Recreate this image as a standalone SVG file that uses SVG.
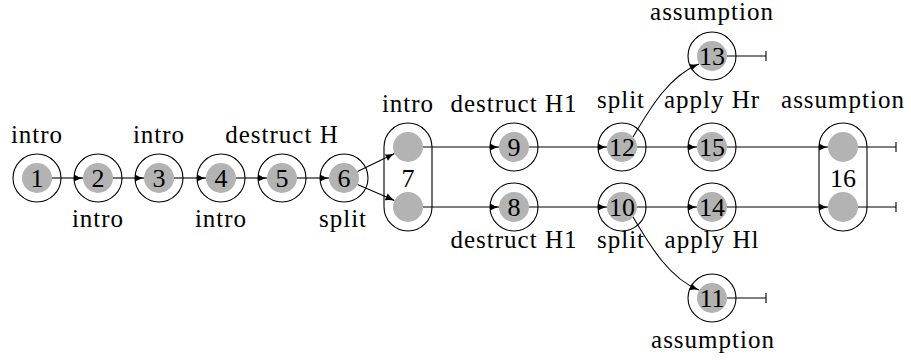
<svg xmlns="http://www.w3.org/2000/svg" width="911" height="363" viewBox="0 0 911 363">
<style>
text{font-family:"Liberation Serif","Times New Roman",serif;fill:#000}
.lbl{font-size:25px;letter-spacing:1px;text-anchor:middle}
.num{font-size:26px;text-anchor:middle}
.outer{fill:none;stroke:#000;stroke-width:1.1}
.core{fill:#b3b3b3;stroke:none}
.e{fill:none;stroke:#000;stroke-width:1.1}
.ea{fill:none;stroke:#000;stroke-width:1.1;marker-end:url(#arr)}
</style>
<defs>
<marker id="arr" markerUnits="userSpaceOnUse" markerWidth="12" markerHeight="10" viewBox="-1 -5 12 10" refX="9" refY="0" orient="auto">
<path d="M0,-3.6 Q4,-1 9,0 Q4,1 0,3.6 Z" fill="#000"/>
</marker>
</defs>
<rect width="911" height="363" fill="#fff"/>

<g id="connectors">
<line class="ea" x1="52" y1="178" x2="83" y2="178"/>
<line class="ea" x1="113" y1="178" x2="144" y2="178"/>
<line class="ea" x1="174" y1="178" x2="206" y2="178"/>
<line class="ea" x1="236" y1="178" x2="267" y2="178"/>
<line class="ea" x1="297" y1="178" x2="329" y2="178"/>
<line class="ea" x1="357.5" y1="171.5" x2="394.5" y2="153.5"/>
<line class="ea" x1="357.5" y1="184.5" x2="394.5" y2="200.5"/>
<line class="ea" x1="423" y1="147" x2="499" y2="147"/>
<line class="ea" x1="423" y1="207" x2="499" y2="207"/>
<line class="ea" x1="529" y1="147" x2="607" y2="147"/>
<line class="ea" x1="529" y1="207" x2="607" y2="207"/>
<line class="ea" x1="637" y1="147" x2="697" y2="147"/>
<line class="ea" x1="637" y1="207" x2="697" y2="207"/>
<line class="ea" x1="727" y1="147" x2="828" y2="147"/>
<line class="ea" x1="727" y1="207" x2="828" y2="207"/>
<path class="ea" d="M633,137 C648,112 668,76 699,64"/>
<path class="ea" d="M633,217 C648,242 668,278 699,290"/>
<path class="e" d="M727,56 H766 M766,51 V61"/>
<path class="e" d="M727,298 H766 M766,293 V303"/>
<path class="e" d="M858,147 H896 M896,142 V152"/>
<path class="e" d="M858,207 H896 M896,202 V212"/>
</g>

<g id="n1"><circle class="outer" cx="37" cy="178" r="24"/><circle class="core" cx="37" cy="178" r="15"/><text class="num" x="37" y="187">1</text><text class="lbl" x="37" y="143">intro</text></g>
<g id="n2"><circle class="outer" cx="98" cy="178" r="24"/><circle class="core" cx="98" cy="178" r="15"/><text class="num" x="98" y="187">2</text><text class="lbl" x="98" y="227">intro</text></g>
<g id="n3"><circle class="outer" cx="159" cy="178" r="24"/><circle class="core" cx="159" cy="178" r="15"/><text class="num" x="159" y="187">3</text><text class="lbl" x="159" y="143">intro</text></g>
<g id="n4"><circle class="outer" cx="221" cy="178" r="24"/><circle class="core" cx="221" cy="178" r="15"/><text class="num" x="221" y="187">4</text><text class="lbl" x="221" y="227">intro</text></g>
<g id="n5"><circle class="outer" cx="282" cy="178" r="24"/><circle class="core" cx="282" cy="178" r="15"/><text class="num" x="282" y="187">5</text><text class="lbl" x="282" y="143">destruct H</text></g>
<g id="n6"><circle class="outer" cx="344" cy="178" r="24"/><circle class="core" cx="344" cy="178" r="15"/><text class="num" x="344" y="187">6</text><text class="lbl" x="343" y="227">split</text></g>
<g id="n7"><rect class="outer" x="384" y="123" width="48" height="108" rx="24" ry="24"/><circle class="core" cx="408" cy="147" r="15"/><circle class="core" cx="408" cy="207" r="15"/><text class="num" x="408" y="187">7</text><text class="lbl" x="408" y="112">intro</text></g>
<g id="n9"><circle class="outer" cx="514" cy="147" r="24"/><circle class="core" cx="514" cy="147" r="15"/><text class="num" x="514" y="156">9</text><text class="lbl" x="514" y="112">destruct H1</text></g>
<g id="n8"><circle class="outer" cx="514" cy="207" r="24"/><circle class="core" cx="514" cy="207" r="15"/><text class="num" x="514" y="216">8</text><text class="lbl" x="514" y="248">destruct H1</text></g>
<g id="n12"><circle class="outer" cx="622" cy="147" r="24"/><circle class="core" cx="622" cy="147" r="15"/><text class="num" x="622" y="156">12</text><text class="lbl" x="621" y="107.5">split</text></g>
<g id="n10"><circle class="outer" cx="622" cy="207" r="24"/><circle class="core" cx="622" cy="207" r="15"/><text class="num" x="622" y="216">10</text><text class="lbl" x="621" y="248">split</text></g>
<g id="n13"><circle class="outer" cx="712" cy="56" r="24"/><circle class="core" cx="712" cy="56" r="15"/><text class="num" x="712" y="65">13</text><text class="lbl" x="712" y="20">assumption</text></g>
<g id="n15"><circle class="outer" cx="712" cy="147" r="24"/><circle class="core" cx="712" cy="147" r="15"/><text class="num" x="712" y="156">15</text><text class="lbl" x="712" y="107.5">apply Hr</text></g>
<g id="n14"><circle class="outer" cx="712" cy="207" r="24"/><circle class="core" cx="712" cy="207" r="15"/><text class="num" x="712" y="216">14</text><text class="lbl" x="712" y="248">apply Hl</text></g>
<g id="n11"><circle class="outer" cx="712" cy="298" r="24"/><circle class="core" cx="712" cy="298" r="15"/><text class="num" x="712" y="307">11</text><text class="lbl" x="713" y="348">assumption</text></g>
<g id="n16"><rect class="outer" x="819" y="123" width="48" height="108" rx="24" ry="24"/><circle class="core" cx="843" cy="147" r="15"/><circle class="core" cx="843" cy="207" r="15"/><text class="num" x="843" y="187">16</text><text class="lbl" x="843" y="107.5">assumption</text></g>
</svg>
